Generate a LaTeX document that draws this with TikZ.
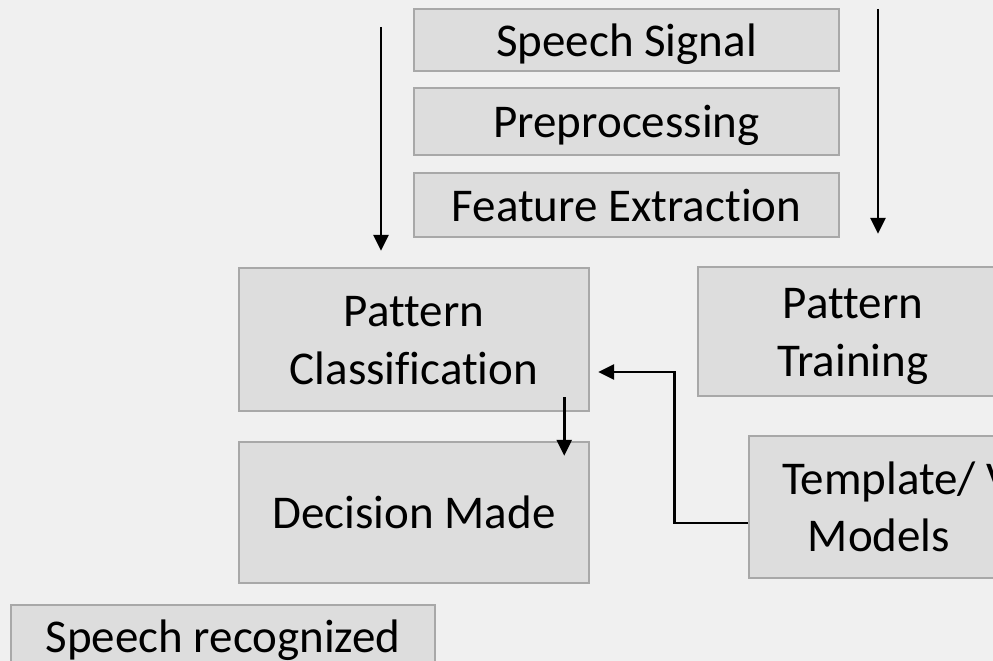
\documentclass[tikz,border=0pt]{standalone}
\usepackage{fontspec}
\setmainfont[Ligatures=NoCommon]{Carlito}
\usetikzlibrary{arrows.meta,calc}
\definecolor{bgc}{RGB}{240,240,240}
\definecolor{boxfill}{RGB}{221,221,221}
\definecolor{boxline}{RGB}{168,168,168}
\newcommand\lnstrut{\rule[-0.26em]{0pt}{1.21em}}
\begin{document}
\begin{tikzpicture}[x=1pt,y=-1pt,
  box/.style={draw=boxline, fill=boxfill, line width=2.4pt, inner sep=0pt, align=center,
    font=\fontsize{47}{57.5}\selectfont},
  arr/.style={-{Triangle[width=15pt,length=16pt]}, line width=2.7pt, black}]
\fill[bgc] (0,0) rectangle (993,661);
\useasboundingbox (0,0) rectangle (993,661);
\clip (0,0) rectangle (993,661);

\node[box, minimum width=425pt, minimum height=62pt] (sig) at (626.5,40) {\lnstrut Speech Signal};
\node[box, minimum width=425pt, minimum height=67pt] (pre) at (626.5,121.5) {\lnstrut Preprocessing};
\node[box, minimum width=425pt, minimum height=64pt] (fe) at (626.5,205) {\lnstrut Feature Extraction};
\node[box, minimum width=350pt, minimum height=143pt] (pc) at (414,339.5) {\lnstrut Pattern\\\lnstrut Classification};
\node[box, minimum width=350pt, minimum height=141pt] (dm) at (414,512.5) {\lnstrut Decision Made};
\node[box, minimum width=310pt, minimum height=129pt] (pt) at (853,331.5) {\lnstrut Pattern\\\lnstrut Training};
\node[box, minimum width=260pt, minimum height=142pt] (tm) at (879,507) {\lnstrut Template/\rlap{ V}\\\lnstrut Models};
\node[box, minimum width=424pt, minimum height=62pt] (sr) at (223,636) {\lnstrut Speech recognized};

\coordinate (la) at (381,27);
\coordinate (ra) at (878,9);
\draw[arr, shorten >=16pt] (la) -- (la |- pc.north);
\draw[arr, shorten >=32pt] (ra) -- (ra |- pt.north);
\draw[arr] ($(pc.south east)+(-26,-15)$) -- ($(dm.north east)+(-26,15)$);
\coordinate (fb) at ($(tm.west)+(0,16)$);
\draw[arr] (fb) -| ($(pc.east)+(84,32.5)$) -- ($(pc.east)+(8,32.5)$);
\end{tikzpicture}
\end{document}
